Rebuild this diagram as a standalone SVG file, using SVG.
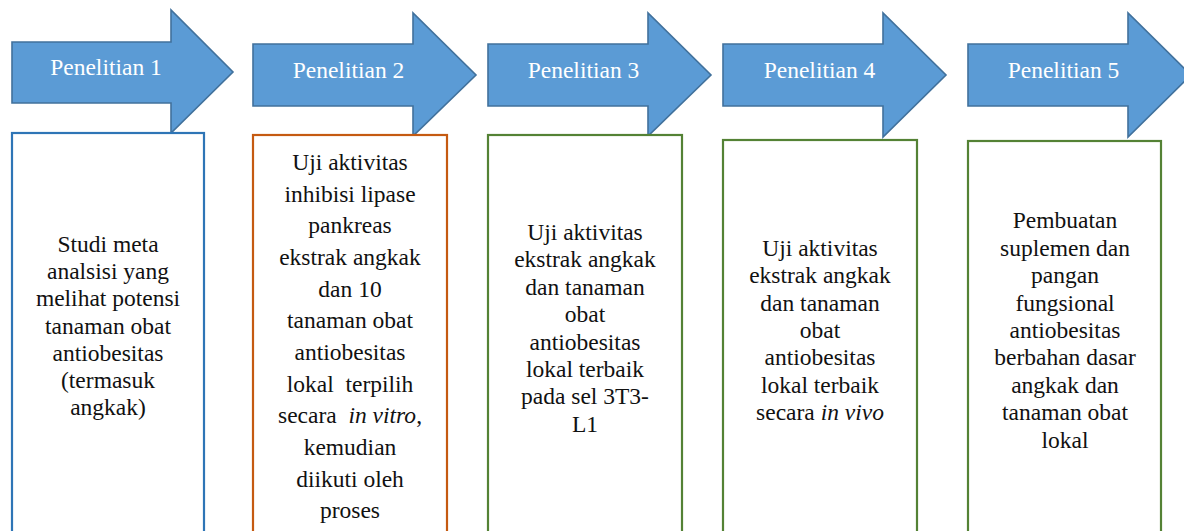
<svg xmlns="http://www.w3.org/2000/svg" width="1184" height="531" viewBox="0 0 1184 531">
<style>
.arrow{fill:#5B9BD5;stroke:#41719C;stroke-width:1.6;stroke-linejoin:miter}
.alabel{font-family:"Liberation Serif","Times New Roman",serif;font-size:23.5px;fill:#FFFFFF;text-anchor:middle}
.box{fill:#FFFFFF;stroke-width:2.2}
.blue{stroke:#2E75B6}
.orange{stroke:#C55A11}
.green{stroke:#548235}
.t{font-family:"Liberation Serif","Times New Roman",serif;font-size:23.5px;fill:#111111;text-anchor:middle}
</style>
<rect width="1184" height="531" fill="#FFFFFF"/>
<g id="connectors"/>
<g id="step1">
<path class="arrow" d="M12,42 H171 V10 L233,72 L171,133 V103 H12 Z"/>
<text class="alabel" x="106" y="75">Penelitian 1</text>
</g>
<g id="step2">
<path class="arrow" d="M253,44 H413 V13 L476,75 L413,136 V106 H253 Z"/>
<text class="alabel" x="348.5" y="78">Penelitian 2</text>
</g>
<g id="step3">
<path class="arrow" d="M488,44 H648 V13 L711,75 L648,136 V106 H488 Z"/>
<text class="alabel" x="583.5" y="78">Penelitian 3</text>
</g>
<g id="step4">
<path class="arrow" d="M723,44 H883 V13 L946,75 L883,137 V106 H723 Z"/>
<text class="alabel" x="819.5" y="78">Penelitian 4</text>
</g>
<g id="step5">
<path class="arrow" d="M968,44 H1128 V13 L1191,75 L1128,137 V106 H968 Z"/>
<text class="alabel" x="1063.5" y="78">Penelitian 5</text>
</g>
<g id="box1">
<rect class="box blue" x="12" y="133" width="192" height="420"/>
<text class="t" x="108" y="252">Studi meta</text>
<text class="t" x="108" y="279.2">analsisi yang</text>
<text class="t" x="108" y="306.4">melihat potensi</text>
<text class="t" x="108" y="333.6">tanaman obat</text>
<text class="t" x="108" y="360.8">antiobesitas</text>
<text class="t" x="108" y="388">(termasuk</text>
<text class="t" x="108" y="415.2">angkak)</text>
</g>
<g id="box2">
<rect class="box orange" x="253" y="135" width="194" height="420"/>
<text class="t" x="350" y="170">Uji aktivitas</text>
<text class="t" x="350" y="201.7">inhibisi lipase</text>
<text class="t" x="350" y="233.3">pankreas</text>
<text class="t" x="350" y="265">ekstrak angkak</text>
<text class="t" x="350" y="296.7">dan 10</text>
<text class="t" x="350" y="328.3">tanaman obat</text>
<text class="t" x="350" y="360">antiobesitas</text>
<text class="t" x="350" y="391.7" xml:space="preserve">lokal  terpilih</text>
<text class="t" x="350" y="423.3" xml:space="preserve">secara  <tspan font-style="italic">in vitro</tspan>,</text>
<text class="t" x="350" y="455">kemudian</text>
<text class="t" x="350" y="486.7">diikuti oleh</text>
<text class="t" x="350" y="518.3">proses</text>
</g>
<g id="box3">
<rect class="box green" x="488" y="135" width="194" height="420"/>
<text class="t" x="585" y="240">Uji aktivitas</text>
<text class="t" x="585" y="267.4">ekstrak angkak</text>
<text class="t" x="585" y="294.8">dan tanaman</text>
<text class="t" x="585" y="322.2">obat</text>
<text class="t" x="585" y="349.6">antiobesitas</text>
<text class="t" x="585" y="377">lokal terbaik</text>
<text class="t" x="585" y="404.4">pada sel 3T3-</text>
<text class="t" x="585" y="431.8">L1</text>
</g>
<g id="box4">
<rect class="box green" x="723" y="140" width="194" height="420"/>
<text class="t" x="820" y="255.7">Uji aktivitas</text>
<text class="t" x="820" y="283.1">ekstrak angkak</text>
<text class="t" x="820" y="310.5">dan tanaman</text>
<text class="t" x="820" y="337.9">obat</text>
<text class="t" x="820" y="365.3">antiobesitas</text>
<text class="t" x="820" y="392.7">lokal terbaik</text>
<text class="t" x="820" y="420.1">secara <tspan font-style="italic">in vivo</tspan></text>
</g>
<g id="box5">
<rect class="box green" x="968" y="141" width="193" height="420"/>
<text class="t" x="1065" y="228.3">Pembuatan</text>
<text class="t" x="1065" y="255.7">suplemen dan</text>
<text class="t" x="1065" y="283.1">pangan</text>
<text class="t" x="1065" y="310.5">fungsional</text>
<text class="t" x="1065" y="337.9">antiobesitas</text>
<text class="t" x="1065" y="365.3">berbahan dasar</text>
<text class="t" x="1065" y="392.7">angkak dan</text>
<text class="t" x="1065" y="420.1">tanaman obat</text>
<text class="t" x="1065" y="447.5">lokal</text>
</g>
</svg>
